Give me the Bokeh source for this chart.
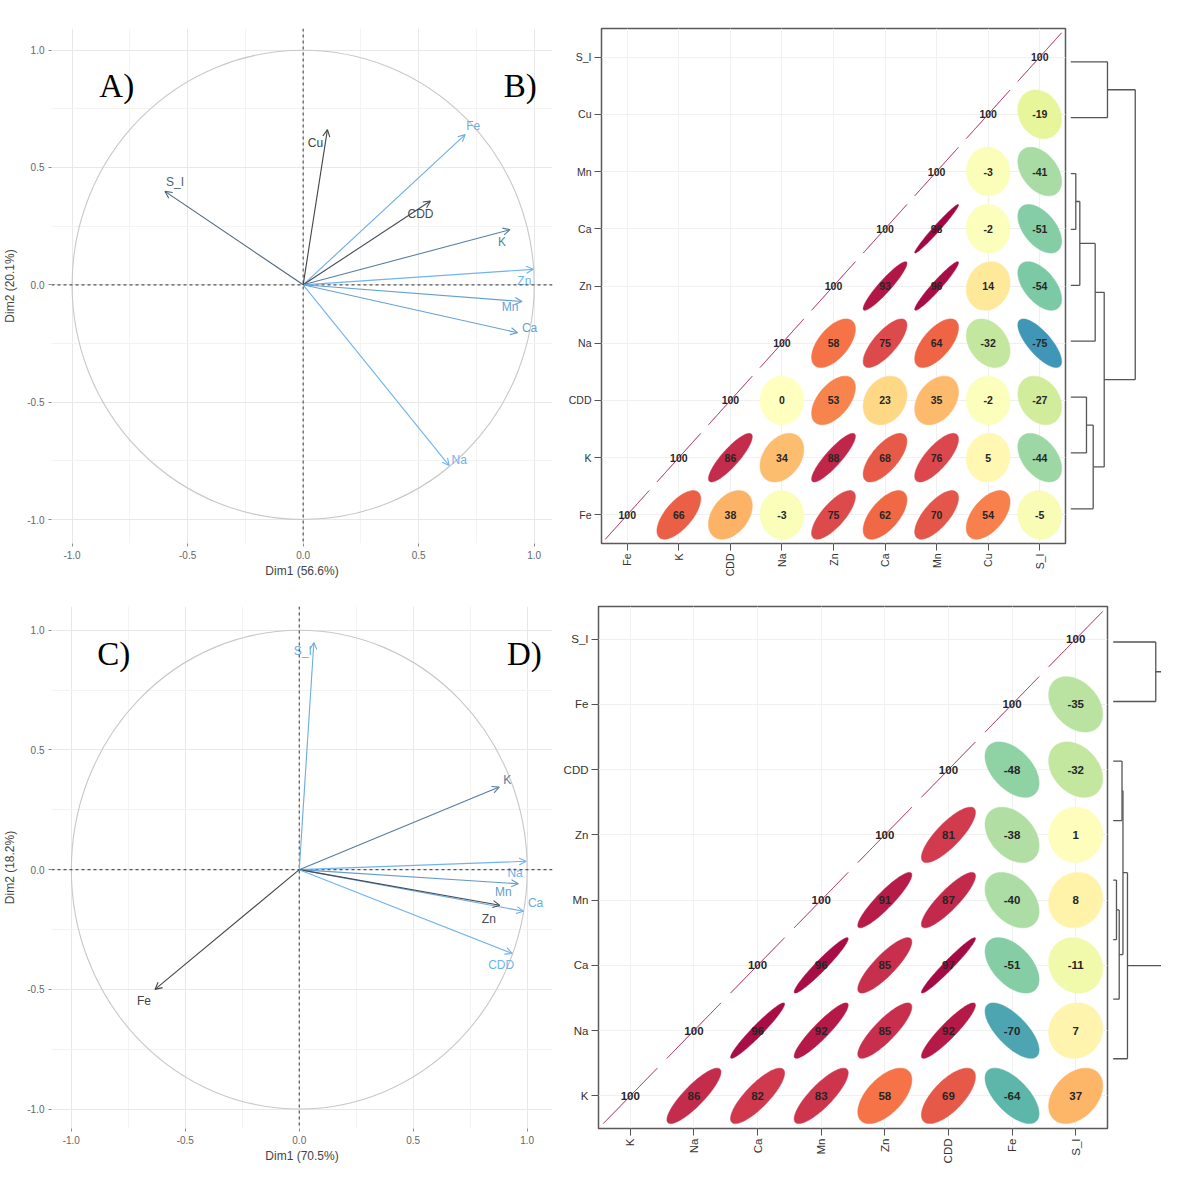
import numpy as np
from bokeh.plotting import figure
from bokeh.models import (Range1d, FixedTicker, NumeralTickFormatter, Span, Arrow,
                          OpenHead, Label, ColumnDataSource, LinearColorMapper)
from bokeh.layouts import row, column
from bokeh.embed import file_html
from bokeh.resources import INLINE
from bokeh.core.properties import value

# ---------------- data ----------------
# Panel A: PCA variable coordinates
pcaA_vars = ["Fe", "K", "CDD", "Na", "Zn", "Ca", "Mn", "Cu", "S_I"]
pcaA_dim1 = [0.701, 0.895, 0.551, 0.632, 0.996, 0.928, 0.947, 0.105, -0.598]
pcaA_dim2 = [0.640, 0.235, 0.357, -0.770, 0.066, -0.204, -0.071, 0.661, 0.398]
pcaA_contrib = [13.0, 9.5, 5.5, 13.5, 13.5, 12.0, 12.0, 5.0, 7.5]
pcaA_xtitle = "Dim1 (56.6%)"
pcaA_ytitle = "Dim2 (20.1%)"

# Panel C: PCA variable coordinates
pcaC_vars = ["S_I", "K", "Na", "Mn", "Ca", "Zn", "CDD", "Fe"]
pcaC_dim1 = [0.064, 0.877, 0.995, 0.961, 0.984, 0.880, 0.934, -0.633]
pcaC_dim2 = [0.949, 0.345, 0.035, -0.059, -0.174, -0.149, -0.350, -0.500]
pcaC_contrib = [12.0, 9.0, 12.5, 11.0, 12.0, 6.0, 12.5, 5.5]
pcaC_xtitle = "Dim1 (70.5%)"
pcaC_ytitle = "Dim2 (18.2%)"

pca_ticks = [-1.0, -0.5, 0.0, 0.5, 1.0]
pca_minor = [-0.75, -0.25, 0.25, 0.75]

# Panel B: correlations (x100), column j holds r(var_i, var_j) for i <= j
corB_vars = ["Fe", "K", "CDD", "Na", "Zn", "Ca", "Mn", "Cu", "S_I"]
corB_upper = [
    [100],
    [66, 100],
    [38, 86, 100],
    [-3, 34, 0, 100],
    [75, 88, 53, 58, 100],
    [62, 68, 23, 75, 93, 100],
    [70, 76, 35, 64, 96, 98, 100],
    [54, 5, -2, -32, 14, -2, -3, 100],
    [-5, -44, -27, -75, -54, -51, -41, -19, 100],
]
# dendrogram merges (child, child, height)
dendB_merges = [("Mn", "Ca", 0.093), ("m0", "Zn", 0.168), ("m1", "Na", 0.454),
                ("CDD", "K", 0.292), ("m3", "Fe", 0.417), ("m2", "m4", 0.622),
                ("S_I", "Cu", 0.683), ("m6", "m5", 1.20)]

# Panel D
corD_vars = ["K", "Na", "Ca", "Mn", "Zn", "CDD", "Fe", "S_I"]
corD_upper = [
    [100],
    [86, 100],
    [82, 96, 100],
    [83, 92, 96, 100],
    [58, 85, 85, 91, 100],
    [69, 92, 97, 87, 81, 100],
    [-64, -70, -51, -40, -38, -48, 100],
    [37, 7, -11, 8, 1, -32, -35, 100],
]
dendD_merges = [("Mn", "Ca", 0.061), ("m0", "Na", 0.112), ("CDD", "Zn", 0.164),
                ("m2", "m1", 0.182), ("m3", "K", 0.266), ("S_I", "Fe", 0.793),
                ("m5", "m4", 1.30)]

# ---------------- styling helpers ----------------
SANS = "Liberation Sans"
SERIF = "Liberation Serif"

# label offsets (screen px, +down) for arrow labels
labA_dx = [8, -8, -10, 10, -9, 12, -12, -12, 10]
labA_dy = [-9, 12, 13, -6, 12, -5, 6, 13, -9]
labC_dx = [-11, 8, -11, -15, 12, -11, -11, -11]
labC_dy = [9, -7, 12, 8, -8, 14, 12, 12]


def hex2rgb(h):
    h = h.lstrip("#")
    return [int(h[i:i + 2], 16) for i in (0, 2, 4)]


def mix(c1, c2, t):
    a, b = hex2rgb(c1), hex2rgb(c2)
    return "#%02x%02x%02x" % tuple(int(round(a[k] + (b[k] - a[k]) * t)) for k in range(3))


def interp_palette(cols, n):
    out = []
    m = len(cols) - 1
    for i in range(n):
        f = i / (n - 1) * m
        k = min(int(f), m - 1)
        out.append(mix(cols[k], cols[k + 1], f - k))
    return out


spectral = ["#5e4fa2", "#3288bd", "#66c2a5", "#abdda4", "#e6f598", "#ffffbf",
            "#fee08b", "#fdae61", "#f46d43", "#d53e4f", "#9e0142"]
cor_palette = interp_palette(spectral, 201)


def pca_fig(vars_, d1, d2, contrib, dx, dy, xtitle, ytitle, xr, yr, w, h, borders, letters):
    bl, br, bt, bb = borders
    p = figure(width=w, height=h, x_range=Range1d(*xr), y_range=Range1d(*yr),
               output_backend="svg", toolbar_location=None,
               min_border_left=bl, min_border_right=br, min_border_top=bt, min_border_bottom=bb)
    p.outline_line_color = None
    p.background_fill_color = "white"
    for ax in (p.xaxis, p.yaxis):
        ax.ticker = FixedTicker(ticks=pca_ticks, minor_ticks=pca_minor)
        ax.formatter = NumeralTickFormatter(format="0.0")
        ax.axis_line_color = None
        ax.major_tick_line_color = "#8a8a8a"
        ax.major_tick_out = 3
        ax.major_tick_in = 0
        ax.minor_tick_line_color = None
        ax.major_label_text_font = SANS
        ax.major_label_text_font_size = "10px"
        ax.major_label_text_color = "#666666"
        ax.major_label_standoff = 3
        ax.axis_label_text_font = SANS
        ax.axis_label_text_font_size = "12px"
        ax.axis_label_text_font_style = "normal"
        ax.axis_label_text_color = "#444444"
    p.xaxis.axis_label = xtitle
    p.yaxis.axis_label = ytitle
    p.xaxis.axis_label_standoff = 2
    p.yaxis.axis_label_standoff = 7
    for g in (p.xgrid, p.ygrid):
        g.grid_line_color = "#e8e8e8"
        g.minor_grid_line_color = "#f3f3f3"
    p.ellipse(x=[0], y=[0], width=[2], height=[2], fill_color=None,
              line_color="#c8c8c8", line_width=1.1)
    p.add_layout(Span(location=0, dimension="width", line_color="#555555",
                      line_dash="3 3", line_width=1.2))
    p.add_layout(Span(location=0, dimension="height", line_color="#555555",
                      line_dash="3 3", line_width=1.2))
    lo, hi = min(contrib), max(contrib)
    cols = [mix("#404448", "#6fb3ef", (c - lo) / (hi - lo)) for c in contrib]
    for x, y, c in zip(d1, d2, cols):
        p.add_layout(Arrow(end=OpenHead(size=7, line_color=c, line_width=1.1),
                           x_start=0, y_start=0, x_end=x, y_end=y,
                           line_color=c, line_width=1.1))
    src = ColumnDataSource(dict(x=d1, y=d2, t=vars_, c=cols, dx=dx, dy=dy))
    p.text(x="x", y="y", text="t", text_color="c", x_offset="dx", y_offset="dy", source=src,
           text_font=value(SANS), text_font_size="12px", text_align="center",
           text_baseline="middle")
    for txt, lx, ly in letters:
        p.add_layout(Label(x=lx, y=ly, text=txt, text_font=SERIF, text_font_size="33px",
                           text_color="black", text_baseline="alphabetic", text_align="left"))
    return p


def cor_fig(vars_, upper, w, h, borders, lab_size, num_size):
    bl, br, bt, bb = borders
    n = len(vars_)
    p = figure(width=w, height=h, x_range=Range1d(0.5, n + 0.5), y_range=Range1d(0.5, n + 0.5),
               output_backend="svg", toolbar_location=None,
               min_border_left=bl, min_border_right=br, min_border_top=bt, min_border_bottom=bb)
    p.outline_line_color = "#5a5a5a"
    p.outline_line_width = 1.5
    labels = {i + 1: v for i, v in enumerate(vars_)}
    for ax in (p.xaxis, p.yaxis):
        ax.ticker = FixedTicker(ticks=list(range(1, n + 1)))
        ax.major_label_overrides = labels
        ax.axis_line_color = None
        ax.major_tick_line_color = "#555555"
        ax.major_tick_out = 7
        ax.major_tick_in = 0
        ax.minor_tick_line_color = None
        ax.major_label_text_font = SANS
        ax.major_label_text_font_size = lab_size
        ax.major_label_text_color = "#333333"
        ax.major_label_standoff = 3
    p.xaxis.major_label_orientation = np.pi / 2
    p.xgrid.grid_line_color = "#f0f0f0"
    p.ygrid.grid_line_color = "#f0f0f0"

    k = np.linspace(0, 2 * np.pi, 99)
    xs, ys, rs, cx, cy, txt = [], [], [], [], [], []
    for j in range(n):
        for i in range(j + 1):
            r = upper[j][i] / 100.0
            a = np.arccos(np.clip(r, -1, 1)) / 2
            ex = 0.85 * np.cos(k + a) / 2
            ey = 0.85 * np.cos(k - a) / 2
            xs.append(list(j + 1 + ex))
            ys.append(list(i + 1 + ey))
            rs.append(r)
            cx.append(j + 1)
            cy.append(i + 1)
            txt.append(str(upper[j][i]))
    mapper = LinearColorMapper(palette=cor_palette, low=-1, high=1)
    psrc = ColumnDataSource(dict(xs=xs, ys=ys, r=rs))
    p.patches("xs", "ys", source=psrc, fill_color={"field": "r", "transform": mapper},
              line_color={"field": "r", "transform": mapper}, line_width=1, line_alpha=0.5)
    tsrc = ColumnDataSource(dict(x=cx, y=cy, t=txt))
    p.text(x="x", y="y", text="t", source=tsrc, text_font=value(SANS),
           text_font_size=num_size, text_font_style="bold", text_color="#262626",
           text_align="center", text_baseline="middle")
    return p


def dend_fig(vars_, merges, w, h, borders, xr, yr):
    bl, br, bt, bb = borders
    p = figure(width=w, height=h, x_range=Range1d(*xr), y_range=Range1d(*yr),
               output_backend="svg", toolbar_location=None,
               x_axis_location=None, y_axis_location=None,
               min_border_left=bl, min_border_right=br, min_border_top=bt, min_border_bottom=bb)
    p.outline_line_color = None
    p.xgrid.grid_line_color = None
    p.ygrid.grid_line_color = None
    nodes = {v: (i + 1.0, 0.0) for i, v in enumerate(vars_)}
    x0, y0, x1, y1 = [], [], [], []
    for m, (a, b, hgt) in enumerate(merges):
        ya, ha = nodes[a]
        yb, hb = nodes[b]
        x0 += [ha, hb, hgt]
        y0 += [ya, yb, ya]
        x1 += [hgt, hgt, hgt]
        y1 += [ya, yb, yb]
        nodes["m%d" % m] = ((ya + yb) / 2.0, hgt)
    p.segment(x0=x0, y0=y0, x1=x1, y1=y1, line_color="#555555", line_width=1.3)
    return p


pA = pca_fig(pcaA_vars, pcaA_dim1, pcaA_dim2, pcaA_contrib, labA_dx, labA_dy,
             pcaA_xtitle, pcaA_ytitle, (-1.089, 1.079), (-1.102, 1.092), 557, 582,
             (49, 5, 7, 33), [("A)", -0.882, 0.848), ("B)", 0.868, 0.848)])
pB = cor_fig(corB_vars, corB_upper, 510, 582, (44, 2, 28, 39), "10.5px", "10.5px")
pBd = dend_fig(corB_vars, dendB_merges, 94, 582, (0, 0, 28, 39), (-0.0615, 1.689), (0.380, 9.596))

pC = pca_fig(pcaC_vars, pcaC_dim1, pcaC_dim2, pcaC_contrib, labC_dx, labC_dy,
             pcaC_xtitle, pcaC_ytitle, (-1.087, 1.111), (-1.081, 1.099), 557, 584,
             (49, 5, 24, 31), [("C)", -0.886, 0.899), ("D)", 0.911, 0.899)])
pD = cor_fig(corD_vars, corD_upper, 552, 584, (41, 2, 14, 30), "11.5px", "11.5px")
pDd = dend_fig(corD_vars, dendD_merges, 52, 584, (0, 0, 14, 30), (-0.069, 0.90), (-0.172, 8.596))

layout = column(row(pA, pB, pBd), row(pC, pD, pDd))
open("out.html", "w").write(file_html(layout, INLINE))
